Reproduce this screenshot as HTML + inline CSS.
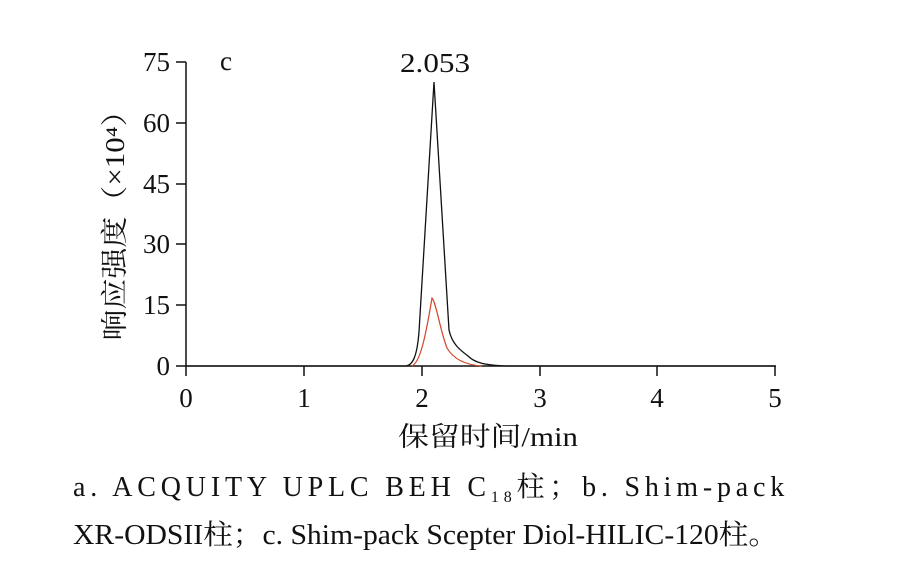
<!DOCTYPE html>
<html><head><meta charset="utf-8"><style>
body{margin:0;background:#fff;width:904px;height:563px;overflow:hidden}
svg{display:block}
text{font-family:"Liberation Serif","Noto Serif CJK SC",serif;fill:#111}
</style></head><body>
<svg width="904" height="563" viewBox="0 0 904 563">
<g stroke="#111" stroke-width="1.5" fill="none">
<line x1="186" y1="62" x2="186" y2="366"/>
<line x1="186" y1="366" x2="776" y2="366"/>
<line x1="176" y1="62" x2="186" y2="62"/>
<line x1="176" y1="123" x2="186" y2="123"/>
<line x1="176" y1="184" x2="186" y2="184"/>
<line x1="176" y1="244" x2="186" y2="244"/>
<line x1="176" y1="305" x2="186" y2="305"/>
<line x1="176" y1="366" x2="186" y2="366"/>
<line x1="186" y1="366" x2="186" y2="376"/>
<line x1="304" y1="366" x2="304" y2="376"/>
<line x1="422" y1="366" x2="422" y2="376"/>
<line x1="540" y1="366" x2="540" y2="376"/>
<line x1="657" y1="366" x2="657" y2="376"/>
<line x1="775" y1="366" x2="775" y2="376"/>
</g>
<g font-size="27" text-anchor="end">
<text x="170" y="71">75</text><text x="170" y="132">60</text><text x="170" y="193">45</text>
<text x="170" y="253">30</text><text x="170" y="314">15</text><text x="170" y="375">0</text>
</g>
<g font-size="27" text-anchor="middle">
<text x="186" y="407">0</text><text x="304" y="407">1</text><text x="422" y="407">2</text>
<text x="540" y="407">3</text><text x="657" y="407">4</text><text x="775" y="407">5</text>
<text x="488" y="446" textLength="180" lengthAdjust="spacingAndGlyphs">保留时间/min</text>
<text x="435" y="72" textLength="70" lengthAdjust="spacingAndGlyphs">2.053</text>
</g>
<text x="220" y="70" font-size="27">c</text>
<text transform="translate(124,218) rotate(-90)" font-size="27" text-anchor="middle" textLength="245" lengthAdjust="spacingAndGlyphs">响应强度（×10⁴）</text>
<path d="M186,366 L406,366 C413,365 417,356 419,332 L434,82 L449,330 C452,344 460,350 468,356 C475,363 485,365 505,366 L775,366" stroke="#111" stroke-width="1.3" fill="none"/>
<path d="M412,366 C420,362 425,340 432,298 C436,302 440,330 447,348 C454,360 466,365 482,366" stroke="#d2452a" stroke-width="1.2" fill="none"/>
<text x="73" y="496" font-size="28" letter-spacing="4.8">a. ACQUITY UPLC BEH C<tspan font-size="16" dy="6">18</tspan><tspan dy="-6">柱；b. Shim-pack</tspan></text>
<text x="73" y="544" font-size="28" textLength="705" lengthAdjust="spacingAndGlyphs">XR-ODSII柱；c. Shim-pack Scepter Diol-HILIC-120柱。</text>
</svg>
</body></html>
